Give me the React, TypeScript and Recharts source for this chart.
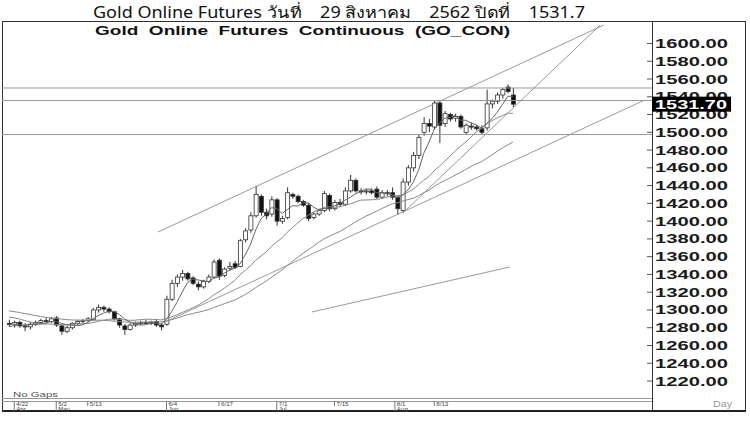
import React from 'react';
import { ComposedChart, Bar, Line, XAxis, YAxis, ReferenceLine } from 'recharts';

// ---- data (one entry per trading day, 4/19 .. 8/29) ----
const opens = [1285,1284,1286,1282,1281,1284,1286,1288,1287,1291,1282,1276,1280,1285,1287,1288,1289,1300,1303,1301,1298,1290,1282,1278,1283,1285,1286,1285,1287,1283,
  1284,1312,1330,1337,1341,1336,1329,1326,1332,1337,1356,1339,1347,1352,1349,1379,1390,1406,1428,1410,1408,1424,1400,1404,1430,1428,1422,1418,1404,1408,
  1412,1429,1414,1421,1419,1434,1446,1434,1433,1434,1436,1427,1432,1432,1427,1412,1444,1460,1474,1500,1510,1506,1533,1510,1520,1516,1518,1500,1507,1506,
  1504,1505,1532,1535,1542,1551,1542];
const highs = [1289,1288,1288,1285,1286,1288,1290,1291,1292,1293,1284,1282,1286,1289,1290,1292,1302,1306,1305,1303,1299,1291,1284,1285,1287,1288,1289,1288,1289,1285,
  1316,1334,1340,1345,1343,1338,1332,1334,1340,1357,1358,1348,1354,1355,1380,1392,1410,1440,1430,1414,1428,1426,1406,1438,1432,1430,1424,1420,1410,1414,
  1434,1431,1424,1425,1438,1452,1448,1437,1436,1437,1439,1435,1435,1438,1429,1448,1463,1478,1498,1517,1515,1536,1535,1524,1522,1521,1520,1510,1511,1508,
  1508,1548,1537,1545,1550,1554,1550];
const lows = [1281,1280,1280,1276,1278,1282,1284,1285,1285,1281,1272,1274,1278,1283,1284,1286,1288,1297,1298,1296,1288,1280,1272,1277,1281,1283,1284,1283,1281,1277,
  1282,1310,1326,1333,1333,1328,1322,1324,1330,1335,1334,1337,1344,1346,1348,1376,1387,1404,1406,1402,1405,1395,1397,1402,1425,1420,1416,1400,1402,1406,
  1410,1411,1412,1416,1417,1432,1432,1430,1430,1430,1425,1425,1428,1424,1407,1409,1440,1456,1470,1496,1500,1503,1488,1506,1512,1512,1504,1498,1503,1502,
  1497,1502,1527,1532,1538,1544,1528];
const closes = [1284,1286,1282,1281,1284,1286,1288,1287,1290,1283,1276,1280,1285,1287,1288,1290,1300,1303,1301,1298,1290,1283,1278,1283,1285,1286,1285,1286,1283,1281,
  1312,1330,1337,1341,1335,1330,1326,1332,1337,1354,1338,1346,1349,1348,1378,1389,1406,1430,1410,1406,1424,1400,1403,1432,1428,1422,1418,1403,1408,1412,
  1431,1414,1421,1419,1434,1446,1434,1433,1434,1432,1427,1432,1431,1427,1414,1444,1460,1474,1494,1510,1507,1533,1508,1521,1515,1518,1506,1508,1506,1504,
  1500,1532,1535,1542,1548,1546,1531.7];
// closes before the visible window (estimated, only used to start the averages)
const priorCloses = [1308,1312,1315,1318,1322,1316,1320,1312,1300,1296,1298,1294,1292,1290,1294,1298,1302,1306,1308,1309,1296,1293,1291,1288,1282,1280,1278,1281,1283];
const maPeriods = [5, 15, 30];

const yTicks = [1220,1240,1260,1280,1300,1320,1340,1360,1380,1400,1420,1440,1460,1480,1500,1520,1540,1560,1580,1600];
const lastClose = 1531.7;
const dateTickIdx = [1, 9, 15, 30, 40, 51, 62, 73.5, 81];
const dateTickLabels = ['4/22', '5/2', '5/13', '6/4', '6/17', '7/1', '7/15', '8/1', '8/13'];
const monthLabels = ['Apr', 'May', '', 'Jun', '', 'Jul', '', 'Aug', ''];
const hLevels = [1549.9, 1535.8, 1497.5];
const trendLines = [
  [[28.4, 1387.8], [113.3, 1620.8]],
  [[75.05, 1409.2], [112.6, 1620.8]],
  [[29.7, 1286.4], [121.1, 1536.4]],
  [[57.7, 1297.7], [95.4, 1348.4]],
];
const X_DOMAIN = [-1.333, 122.476];
const Y_DOMAIN = [1202.0, 1624.2];

const allCloses = [...priorCloses, ...closes];
const sma = (p: number) => closes.map((_, i) => {
  const end = priorCloses.length + i;
  const s = allCloses.slice(Math.max(0, end - p + 1), end + 1);
  return s.reduce((a, b) => a + b, 0) / s.length;
});
const maSeries = maPeriods.map(sma);

const data = closes.map((c, i) => ({
  i,
  o: opens[i], h: highs[i], l: lows[i], c,
  range: [lows[i], highs[i]],
  ma0: maSeries[0][i], ma1: maSeries[1][i], ma2: maSeries[2][i],
}));

const Candle = (props: any) => {
  const { x, y, width, height, payload } = props;
  if (x == null || !payload || !isFinite(y)) return null;
  const top0 = Math.min(y, y + height);
  const hh = Math.abs(height);
  const { o, h, l, c } = payload;
  const ppu = hh / Math.max(0.0001, h - l);
  const yO = top0 + (h - o) * ppu;
  const yC = top0 + (h - c) * ppu;
  const cx = x + width / 2;
  const up = c >= o;
  const bt = Math.min(yO, yC);
  const bh = Math.max(1, Math.abs(yO - yC));
  return (
    <g>
      <line x1={cx} x2={cx} y1={top0} y2={top0 + hh} stroke="#333" strokeWidth={1} />
      <rect x={x} y={bt} width={width} height={bh} fill={up ? '#fff' : '#111'} stroke="#333" strokeWidth={0.8} />
    </g>
  );
};

const YTick = (props: any) => {
  const { x, y, payload } = props;
  const v = payload.value;
  if (v === lastClose) {
    return (
      <g>
        <rect x={x} y={y - 7.5} width={79} height={15} fill="#000" />
        <text x={x + 3} y={y + 4.5} fontSize={12.5} fontWeight="bold" fill="#fff" fontFamily="Arial, 'Liberation Sans'" textLength={72} lengthAdjust="spacingAndGlyphs">{lastClose.toFixed(2)}</text>
      </g>
    );
  }
  return (
    <g>
      <line x1={x - 5} x2={x} y1={y} y2={y} stroke="#555" />
      <text x={x + 3} y={y + 4.5} fontSize={12.5} fontWeight="bold" fill="#1a1a1a" fontFamily="Arial, 'Liberation Sans'" textLength={73} lengthAdjust="spacingAndGlyphs">{v.toFixed(2)}</text>
    </g>
  );
};

const XTick = (props: any) => {
  const { x, y, payload } = props;
  const k = dateTickIdx.indexOf(payload.value);
  if (k < 0) return null;
  const month = monthLabels[k];
  return (
    <g>
      <line x1={x} x2={x} y1={y + 4} y2={month ? y + 14 : y + 9} stroke="#777" />
      <text x={x + 2} y={y + 8.6} fontSize={6.2} fill="#444" fontFamily="Arial, 'Liberation Sans'">{dateTickLabels[k]}</text>
      {month ? <text x={x + 2} y={y + 14.4} fontSize={6.2} fill="#444" fontFamily="Arial, 'Liberation Sans'">{month}</text> : null}
    </g>
  );
};

const preserve: any = { whiteSpace: 'pre' };

export default function App() {
  return (
    <div style={{ position: 'absolute', left: 0, top: 0, width: 750, height: 422, background: '#fff', overflow: 'hidden' }}>
      <svg width={750} height={422} style={{ position: 'absolute', left: 0, top: 0 }}>
        <text x={93} y={18} fontSize={15.5} fill="#111" fontFamily="'Noto Sans', 'DejaVu Sans', sans-serif" textLength={492} lengthAdjust="spacingAndGlyphs" xmlSpace="preserve" style={preserve}>{'Gold Online Futures วันที่    29 สิงหาคม    2562 ปิดที่    1531.7'}</text>
        <rect x={2.5} y={21.5} width={743} height={390} fill="none" stroke="#333" />
        <line x1={652.5} x2={652.5} y1={21.5} y2={411.5} stroke="#333" />
        <text x={95} y={35} fontSize={12} fontWeight="bold" fill="#111" fontFamily="Arial, 'Liberation Sans'" textLength={415} lengthAdjust="spacingAndGlyphs" xmlSpace="preserve" style={preserve}>{'Gold  Online  Futures  Continuous  (GO_CON)'}</text>
        <line x1={2} x2={652} y1={398.5} y2={398.5} stroke="#999" />
        <line x1={2} x2={652} y1={401.5} y2={401.5} stroke="#999" />
        <line x1={2} x2={746} y1={411} y2={411} stroke="#222" strokeWidth={2} />
        <text x={13} y={397} fontSize={7} fill="#555" fontFamily="Arial, 'Liberation Sans'" textLength={45} lengthAdjust="spacingAndGlyphs">No Gaps</text>
        <text x={713} y={406.5} fontSize={9} fill="#999" fontFamily="Arial, 'Liberation Sans'" textLength={19} lengthAdjust="spacingAndGlyphs">Day</text>
      </svg>
      <div style={{ position: 'absolute', left: 0, top: 0 }}>
        <ComposedChart width={750} height={422} data={data} margin={{ top: 22, right: 0, left: 2, bottom: 10 }}>
          <XAxis dataKey="i" type="number" domain={X_DOMAIN} allowDataOverflow ticks={dateTickIdx} interval={0}
            tick={<XTick />} tickLine={false} axisLine={false} tickSize={0} tickMargin={0} height={15} />
          <YAxis orientation="right" type="number" domain={Y_DOMAIN} allowDataOverflow ticks={[...yTicks, lastClose]} interval={0}
            tick={<YTick />} tickLine={false} axisLine={false} tickSize={0} tickMargin={0} width={98} />
          {hLevels.map((v) => (
            <ReferenceLine key={'h' + v} y={v} stroke="#999" strokeWidth={1} />
          ))}
          {trendLines.map((seg, k) => (
            <ReferenceLine key={'t' + k} segment={[{ x: seg[0][0], y: seg[0][1] }, { x: seg[1][0], y: seg[1][1] }]} stroke="#9a9a9a" strokeWidth={1} />
          ))}
          <Line dataKey="ma2" type="linear" dot={false} stroke="#8a8a8a" strokeWidth={1} isAnimationActive={false} />
          <Line dataKey="ma1" type="linear" dot={false} stroke="#8a8a8a" strokeWidth={1} isAnimationActive={false} />
          <Line dataKey="ma0" type="linear" dot={false} stroke="#666" strokeWidth={1} isAnimationActive={false} />
          <Bar dataKey="range" barSize={4} isAnimationActive={false} shape={(p: any) => <Candle {...p} />} />
        </ComposedChart>
      </div>
    </div>
  );
}
